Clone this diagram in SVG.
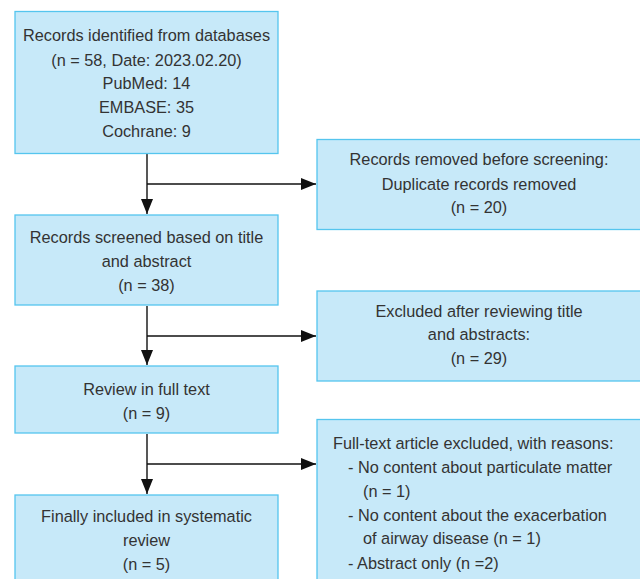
<svg xmlns="http://www.w3.org/2000/svg" width="640" height="579" viewBox="0 0 640 579">
<defs>
<style>
.box{fill:#c7e9f9;stroke:#55c5ee;stroke-width:1.3}
.t{font-family:"Liberation Sans",Arial,sans-serif;font-size:16.3px;fill:#333;text-anchor:middle}
.l{text-anchor:start}
.c{stroke:#111;stroke-width:1.4;fill:none}
</style>
<marker id="ah" viewBox="0 0 15 12" refX="15" refY="6" markerWidth="15" markerHeight="12" markerUnits="userSpaceOnUse" orient="auto">
<path d="M0,0 L15,6 L0,12 Z" fill="#111"/>
</marker>
</defs>
<rect width="640" height="579" fill="#fff"/>
<g id="connectors">
<path class="c" d="M147,154 V214" marker-end="url(#ah)"/>
<path class="c" d="M147,184 H316" marker-end="url(#ah)"/>
<path class="c" d="M147,306 V365" marker-end="url(#ah)"/>
<path class="c" d="M147,336 H316" marker-end="url(#ah)"/>
<path class="c" d="M147,434 V494" marker-end="url(#ah)"/>
<path class="c" d="M147,464 H316" marker-end="url(#ah)"/>
</g>
<g id="n1">
<rect class="box" x="15" y="11.5" width="263" height="142"/>
<text class="t" x="146.5" y="40.5">Records identified from databases</text>
<text class="t" x="146.5" y="65.5">(n = 58, Date: 2023.02.20)</text>
<text class="t" x="146.5" y="88.5">PubMed: 14</text>
<text class="t" x="146.5" y="112.5">EMBASE: 35</text>
<text class="t" x="146.5" y="136.5">Cochrane: 9</text>
</g>
<g id="n2">
<rect class="box" x="317" y="139.5" width="325" height="90"/>
<text class="t" x="479" y="165">Records removed before screening:</text>
<text class="t" x="479" y="190">Duplicate records removed</text>
<text class="t" x="479" y="213">(n = 20)</text>
</g>
<g id="n3">
<rect class="box" x="15" y="215" width="263" height="90"/>
<text class="t" x="146.5" y="242.5">Records screened based on title</text>
<text class="t" x="146.5" y="266.5">and abstract</text>
<text class="t" x="146.5" y="290.5">(n = 38)</text>
</g>
<g id="n4">
<rect class="box" x="317" y="291" width="325" height="90"/>
<text class="t" x="479" y="317">Excluded after reviewing title</text>
<text class="t" x="479" y="340">and abstracts:</text>
<text class="t" x="479" y="363.5">(n = 29)</text>
</g>
<g id="n5">
<rect class="box" x="15" y="366" width="263" height="67"/>
<text class="t" x="146.5" y="395">Review in full text</text>
<text class="t" x="146.5" y="418.5">(n = 9)</text>
</g>
<g id="n6">
<rect class="box" x="317" y="419.5" width="325" height="170"/>
<text class="t l" x="333" y="448.5">Full-text article excluded, with reasons:</text>
<text class="t l" x="348" y="472.5">- No content about particulate matter</text>
<text class="t l" x="363" y="496.5">(n = 1)</text>
<text class="t l" x="348" y="520.5">- No content about the exacerbation</text>
<text class="t l" x="363" y="544">of airway disease (n = 1)</text>
<text class="t l" x="348" y="568.5">- Abstract only (n =2)</text>
</g>
<g id="n7">
<rect class="box" x="15" y="495" width="263" height="95"/>
<text class="t" x="146.5" y="521.5">Finally included in systematic</text>
<text class="t" x="146.5" y="545.5">review</text>
<text class="t" x="146.5" y="569.5">(n = 5)</text>
</g>
</svg>
